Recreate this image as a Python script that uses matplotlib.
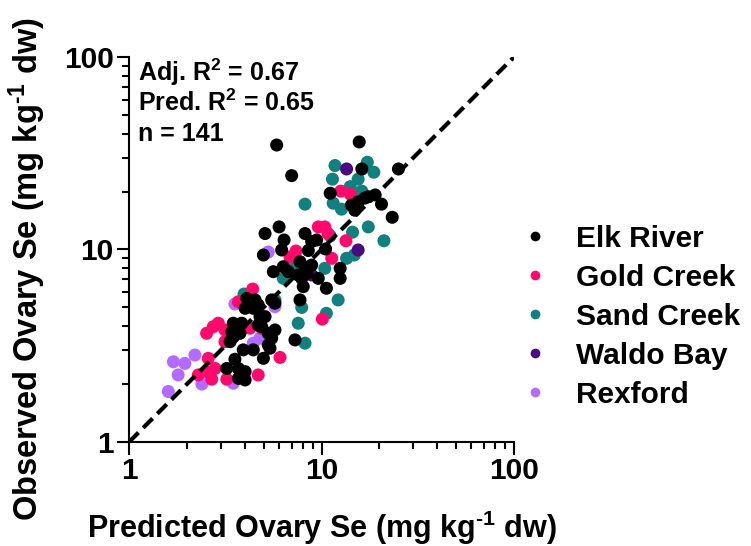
"""Observed vs predicted ovary Se, log-log scatter with 1:1 line."""

import matplotlib

matplotlib.use("Agg")
import matplotlib.pyplot as plt
from matplotlib.lines import Line2D
from matplotlib.ticker import FixedLocator, NullFormatter

plt.rcParams["font.family"] = ["Liberation Sans", "DejaVu Sans"]
plt.rcParams["font.weight"] = "bold"
plt.rcParams["mathtext.fontset"] = "custom"
plt.rcParams["mathtext.rm"] = "Liberation Sans:bold"
plt.rcParams["mathtext.bf"] = "Liberation Sans:bold"
plt.rcParams["mathtext.default"] = "bf"

XLABEL_FONT_SIZE = 22
YLABEL_FONT_SIZE = 23.5
TICK_FONT_SIZE = 21.5
LEGEND_FONT_SIZE = 21.5
STATS_FONT_SIZE = 18
MARKER_SIZE = 88

SITES = ["Elk River", "Gold Creek", "Sand Creek", "Waldo Bay", "Rexford"]
SITE_COLORS = ["#000000", "#FF0A6C", "#11807F", "#4B0882", "#B36BFF"]

# predicted (x) / observed (y), mg kg-1 dw
elk_pred = [
    5.85, 15.7, 16.2, 25.1, 7.0, 11.1, 17.5, 19.0, 14.3, 15.5, 16.8, 14.9,
    20.5, 23.3, 6.02, 5.09, 8.21, 6.39, 8.89, 9.44, 6.21, 8.54, 10.5, 4.99,
    7.73, 6.33, 6.72, 5.62, 8.89, 12.5, 12.5, 7.57, 7.89, 8.38, 9.62, 8.04,
    10.6, 4.09, 5.51, 7.73, 4.52, 4.01, 4.42, 4.69, 5.73, 4.79, 5.09, 4.69,
    4.89, 3.48, 3.85, 3.77, 3.42, 5.29, 5.73, 5.51, 3.35, 3.92, 4.42, 5.29,
    5.40, 7.28, 4.99, 3.55, 3.22, 3.70, 4.01, 4.01, 3.70, 3.48,
]
elk_obs = [
    34.9, 36.2, 26.2, 26.2, 24.2, 19.6, 18.8, 19.2, 17.0, 17.7, 18.5, 16.0,
    17.2, 14.7, 13.1, 12.1, 12.1, 11.2, 11.0, 11.2, 9.94, 9.88, 10.06, 9.36,
    8.64, 8.14, 7.67, 7.67, 8.30, 7.98, 7.08, 7.37, 7.08, 7.52, 7.08, 6.41,
    6.29, 5.57, 5.47, 5.47, 5.47, 4.95, 4.95, 5.15, 5.26, 4.48, 4.48, 4.05,
    3.97, 4.14, 4.14, 3.67, 3.74, 3.67, 3.82, 3.46, 3.32, 3.01, 3.01, 3.19,
    3.07, 3.39, 2.72, 2.69, 2.41, 2.41, 2.32, 2.10, 2.14, 3.51,
]

gold_pred = [
    12.6, 14.1, 9.62, 10.4, 10.8, 13.4, 7.37, 6.86, 11.3, 4.39, 3.70, 10.1,
    2.53, 2.74, 2.91, 3.15, 4.25, 4.89, 3.15, 6.09, 2.58, 2.80, 2.53, 2.29,
    2.69, 3.22, 4.69,
]
gold_obs = [
    20.1, 19.4, 13.1, 13.1, 12.1, 11.1, 9.82, 9.14, 9.0, 6.23, 5.35, 4.35,
    3.67, 3.97, 4.14, 3.82, 3.90, 3.90, 3.32, 2.75, 2.72, 2.41, 2.32, 2.23,
    2.12, 2.12, 2.23,
]

sand_pred = [
    11.75, 17.3, 18.7, 11.4, 15.5, 14.1, 16.2, 8.21, 11.5, 12.7, 17.5, 14.5,
    21.1, 14.8, 11.1, 13.5, 10.4, 7.28, 6.33, 12.2, 4.34, 3.96, 5.73, 7.89,
    10.6, 7.57, 8.21,
]
sand_obs = [
    27.3, 28.4, 25.2, 23.2, 23.2, 21.2, 20.1, 17.2, 17.4, 16.2, 13.1, 12.3,
    11.1, 9.36, 11.75, 9.0, 7.98, 8.14, 7.08, 5.47, 5.47, 5.87, 5.47, 5.0,
    4.66, 4.14, 3.26,
]

waldo_pred = [13.5, 15.5, 8.89]
waldo_obs = [26.2, 9.94, 7.37]

rexford_pred = [5.29, 3.55, 5.73, 4.42, 4.79, 2.20, 1.95, 1.70, 1.80, 2.39, 3.48, 1.60]
rexford_obs = [9.70, 5.21, 5.05, 3.26, 3.46, 2.83, 2.56, 2.61, 2.23, 2.00, 2.02, 1.83]

STATS_LINES = ["Adj. R$^{2}$ = 0.67", "Pred. R$^{2}$ = 0.65", "n = 141"]
AXIS_LIMITS = (1, 100)
MAJOR_TICKS = [1, 10, 100]
MINOR_TICKS = [m * d for d in (1, 10) for m in range(2, 10)]
UNIT = r"(mg kg$^{\text{-}1}$ dw)"


def main() -> int:
    fig = plt.figure(figsize=(7.51, 5.46), dpi=100)
    ax = fig.add_axes([0.1718, 0.1905, 0.5126, 0.7051])

    series = {
        "Elk River": (elk_pred, elk_obs),
        "Gold Creek": (gold_pred, gold_obs),
        "Sand Creek": (sand_pred, sand_obs),
        "Waldo Bay": (waldo_pred, waldo_obs),
        "Rexford": (rexford_pred, rexford_obs),
    }
    # draw order: light groups first, black on top
    draw_order = ["Rexford", "Sand Creek", "Waldo Bay", "Gold Creek", "Elk River"]
    for z, site in enumerate(draw_order):
        x, y = series[site]
        color = SITE_COLORS[SITES.index(site)]
        ax.scatter(x, y, s=MARKER_SIZE, color=color, edgecolors="none",
                   zorder=3 + z, clip_on=False)

    ax.plot(AXIS_LIMITS, AXIS_LIMITS, color="black", linewidth=3,
            linestyle=(0, (3.2, 1.6)), zorder=10)

    ax.set_xscale("log")
    ax.set_yscale("log")
    ax.set_xlim(*AXIS_LIMITS)
    ax.set_ylim(*AXIS_LIMITS)

    for axis in (ax.xaxis, ax.yaxis):
        axis.set_major_locator(FixedLocator(MAJOR_TICKS))
        axis.set_minor_locator(FixedLocator(MINOR_TICKS))
        axis.set_minor_formatter(NullFormatter())
    ax.set_xticklabels([str(t) for t in MAJOR_TICKS])
    ax.set_yticklabels([str(t) for t in MAJOR_TICKS])

    for side in ("top", "right"):
        ax.spines[side].set_visible(False)
    for side in ("left", "bottom"):
        ax.spines[side].set_linewidth(1.5)

    ax.tick_params(which="major", direction="out", length=9, width=1.5,
                   labelsize=TICK_FONT_SIZE, pad=2)
    ax.tick_params(which="minor", direction="out", length=5, width=1.5)
    for label in ax.get_xticklabels() + ax.get_yticklabels():
        label.set_fontweight("bold")

    ax.set_xlabel(f"Predicted Ovary Se {UNIT}",
                  fontsize=XLABEL_FONT_SIZE, fontweight="bold")
    ax.set_ylabel(f"Observed Ovary Se {UNIT}",
                  fontsize=YLABEL_FONT_SIZE, fontweight="bold")
    ax.xaxis.set_label_coords(0.5, -0.172)
    ax.yaxis.set_label_coords(-0.21, 0.45)

    for i, line in enumerate(STATS_LINES):
        fig.text(0.184, 0.868 - i * 0.057, line, fontsize=STATS_FONT_SIZE,
                 fontweight="bold", va="center", ha="left")

    handles = [
        Line2D([], [], linestyle="none", marker="o", markersize=7,
               markerfacecolor=color, markeredgecolor="none")
        for color in SITE_COLORS
    ]
    fig.legend(handles, SITES, loc="center left", bbox_to_anchor=(0.672, 0.42),
               frameon=False, borderpad=0, borderaxespad=0, labelspacing=0.37,
               handlelength=2.0, handletextpad=0.4,
               prop={"weight": "bold", "size": LEGEND_FONT_SIZE})

    fig.savefig("out.png", dpi=100)
    plt.close(fig)
    return 0


if __name__ == "__main__":
    raise SystemExit(main())
